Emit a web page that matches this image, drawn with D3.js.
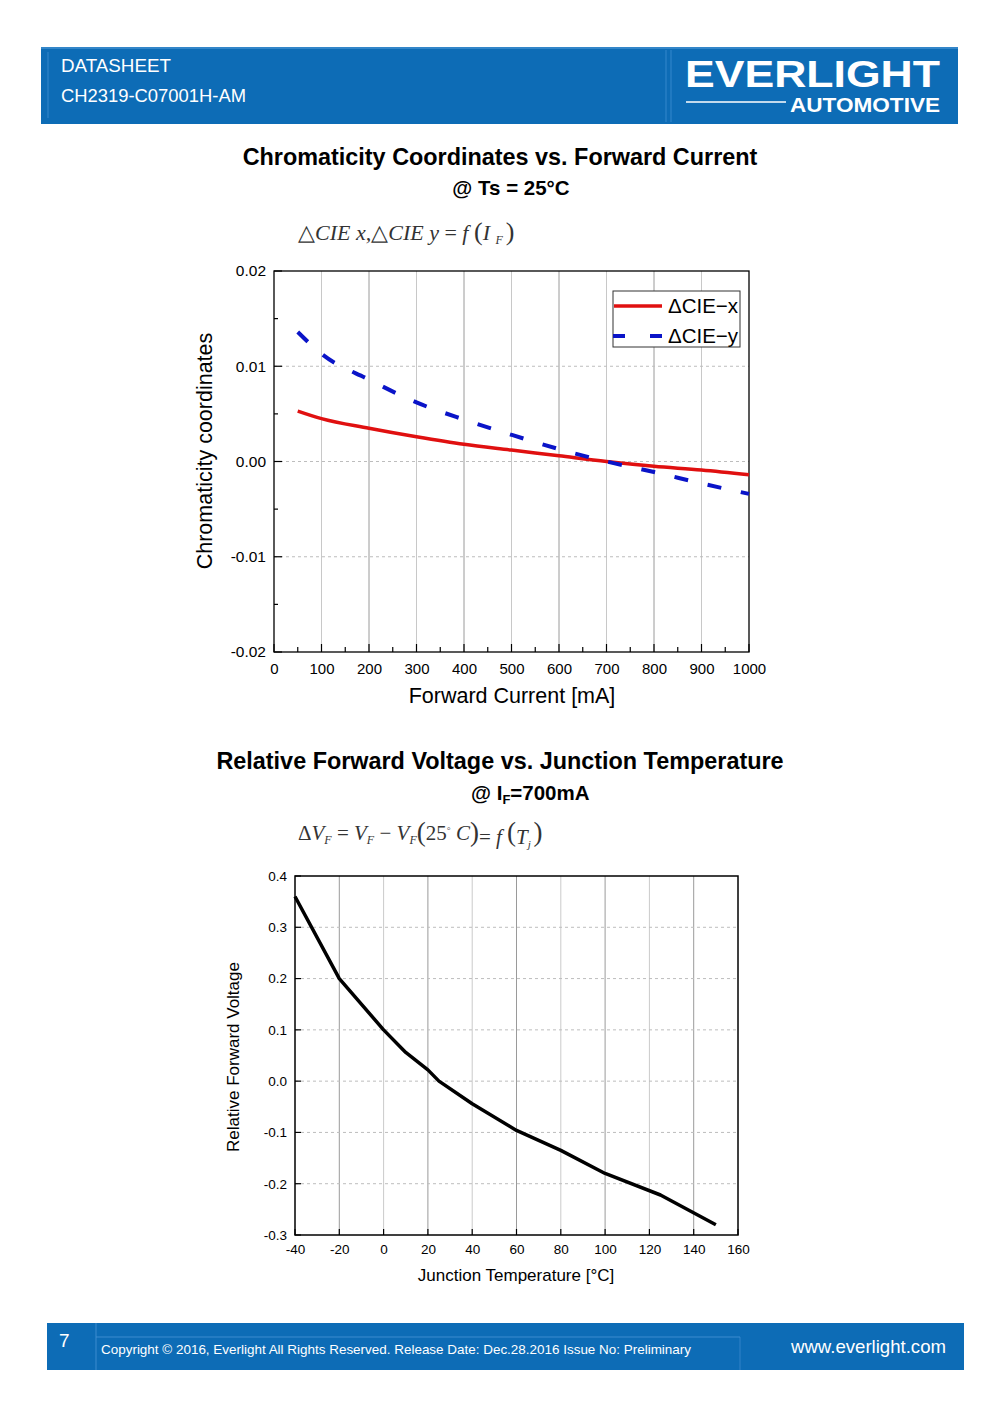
<!DOCTYPE html>
<html><head><meta charset="utf-8">
<script src="https://cdn.jsdelivr.net/npm/d3@7"></script>
<style>body{margin:0;background:#fff}svg{display:block}</style>
</head><body>
<script>
// ---- Data ----
const currentMA = [50,100,200,300,400,500,600,700,800,900,1000];
const cieX = [0.0053,0.0045,0.0035,0.0026,0.0018,0.0012,0.0006,0,-0.0005,-0.0009,-0.0014];
const cieY = [0.0136,0.0113,0.0086,0.0062,0.0044,0.0028,0.0013,0,-0.0011,-0.0023,-0.0034];
const xTicks1 = [0,100,200,300,400,500,600,700,800,900,1000];
const yTicks1 = [-0.02,-0.01,0,0.01,0.02];
const yTickLabels1 = ["-0.02","-0.01","0.00","0.01","0.02"];

const tempC = [-40,-20,0,10,20,25,40,60,80,100,125,150];
const dVF = [0.36,0.20,0.10,0.056,0.022,0.0,-0.044,-0.096,-0.135,-0.18,-0.222,-0.28];
const xTicks2 = [-40,-20,0,20,40,60,80,100,120,140,160];
const yTicks2 = [-0.3,-0.2,-0.1,0,0.1,0.2,0.3,0.4];
const yTickLabels2 = ["-0.3","-0.2","-0.1","0.0","0.1","0.2","0.3","0.4"];
const xTickLabels2 = ["-40","-20","0","20","40","60","80","100","120","140","160"];

const SANS = "'Liberation Sans', Arial, sans-serif";
const SERIF = "'Liberation Serif', 'Times New Roman', serif";
const BLUE = "#0d6cb6";

const svg = d3.select("body").append("svg").attr("width",1000).attr("height",1414);
svg.append("rect").attr("width",1000).attr("height",1414).attr("fill","#fff");

// ---- Header ----
const hd = svg.append("g");
hd.append("rect").attr("x",41).attr("y",47).attr("width",917).attr("height",77).attr("fill",BLUE);
hd.append("line").attr("x1",41).attr("x2",958).attr("y1",48).attr("y2",48).attr("stroke","#5aa0dc").attr("stroke-width",1);
hd.append("line").attr("x1",48).attr("x2",48).attr("y1",52).attr("y2",118).attr("stroke","#3f8fd2").attr("stroke-width",0.8);
hd.append("line").attr("x1",666).attr("x2",666).attr("y1",50).attr("y2",122).attr("stroke","#3f8fd2").attr("stroke-width",0.8);
hd.append("line").attr("x1",671).attr("x2",671).attr("y1",50).attr("y2",122).attr("stroke","#3f8fd2").attr("stroke-width",0.8);
hd.append("text").attr("x",61).attr("y",72).attr("fill","#fff").attr("font-family",SANS).attr("font-size",18)
  .attr("textLength",110).attr("lengthAdjust","spacingAndGlyphs").text("DATASHEET");
hd.append("text").attr("x",61).attr("y",102).attr("fill","#fff").attr("font-family",SANS).attr("font-size",18)
  .attr("textLength",185).attr("lengthAdjust","spacingAndGlyphs").text("CH2319-C07001H-AM");
hd.append("text").attr("x",685).attr("y",87).attr("fill","#fff").attr("font-family",SANS).attr("font-weight","bold")
  .attr("font-size",37).attr("textLength",255).attr("lengthAdjust","spacingAndGlyphs").text("EVERLIGHT");
hd.append("line").attr("x1",686).attr("x2",786).attr("y1",102).attr("y2",102).attr("stroke","#fff").attr("stroke-width",1.3);
hd.append("text").attr("x",790).attr("y",112).attr("fill","#fff").attr("font-family",SANS).attr("font-weight","bold")
  .attr("font-size",21).attr("textLength",150).attr("lengthAdjust","spacingAndGlyphs").text("AUTOMOTIVE");

// ---- Footer ----
const ft = svg.append("g");
ft.append("rect").attr("x",47).attr("y",1323).attr("width",917).attr("height",47).attr("fill",BLUE);
ft.append("line").attr("x1",96).attr("x2",96).attr("y1",1323).attr("y2",1370).attr("stroke","#4a96d6").attr("stroke-width",0.8);
ft.append("line").attr("x1",96).attr("x2",740).attr("y1",1337).attr("y2",1337).attr("stroke","#4a96d6").attr("stroke-width",0.8);
ft.append("line").attr("x1",740).attr("x2",740).attr("y1",1337).attr("y2",1370).attr("stroke","#4a96d6").attr("stroke-width",0.6);
ft.append("text").attr("x",59).attr("y",1347).attr("fill","#fff").attr("font-family",SANS).attr("font-size",19).text("7");
ft.append("text").attr("x",101).attr("y",1354).attr("fill","#fff").attr("font-family",SANS).attr("font-size",13.5)
  .attr("textLength",590).attr("lengthAdjust","spacingAndGlyphs")
  .text("Copyright \u00A9 2016, Everlight All Rights Reserved. Release Date: Dec.28.2016 Issue No: Preliminary");
ft.append("text").attr("x",946).attr("y",1353).attr("text-anchor","end").attr("fill","#fff").attr("font-family",SANS).attr("font-size",18.6)
  .text("www.everlight.com");

// ---- Chart 1 ----
const c1 = svg.append("g");
c1.append("text").attr("x",500).attr("y",165).attr("text-anchor","middle").attr("font-family",SANS).attr("font-weight","bold").attr("font-size",23.4).text("Chromaticity Coordinates vs. Forward Current");
c1.append("text").attr("x",511).attr("y",195).attr("text-anchor","middle").attr("font-family",SANS).attr("font-weight","bold").attr("font-size",20.5).text("@ Ts = 25°C");
// formula
const f1 = c1.append("text").attr("x",298).attr("y",240).attr("font-family",SERIF).attr("font-size",22).attr("fill","#333");
f1.append("tspan").text("\u25B3");
f1.append("tspan").attr("font-style","italic").text("CIE x,");
f1.append("tspan").text("\u25B3");
f1.append("tspan").attr("font-style","italic").text("CIE y");
f1.append("tspan").text(" = ");
f1.append("tspan").attr("font-style","italic").text("f ");
f1.append("tspan").attr("font-size",26).text("(");
f1.append("tspan").attr("font-style","italic").text("I ");
f1.append("tspan").attr("font-style","italic").attr("font-size",12).attr("dy",4).text("F ");
f1.append("tspan").attr("font-size",26).attr("dy",-4).text(")");

const x1 = d3.scaleLinear().domain([0,1000]).range([274,749]);
const y1 = d3.scaleLinear().domain([-0.02,0.02]).range([652,271]);

// vertical grid
c1.append("g").selectAll("line").data(xTicks1.slice(1,-1)).join("line")
  .attr("x1",d=>x1(d)).attr("x2",d=>x1(d)).attr("y1",271).attr("y2",652)
  .attr("stroke",(d,i)=> i%2===1 ? "#9a9a9a" : "#c8c8c8").attr("stroke-width",1);
// horizontal dashed grid
c1.append("g").selectAll("line").data(yTicks1.slice(1,-1)).join("line")
  .attr("x1",274).attr("x2",749).attr("y1",d=>y1(d)).attr("y2",d=>y1(d))
  .attr("stroke","#bdbdbd").attr("stroke-width",1).attr("stroke-dasharray","3,3");

// axes
const ax1 = d3.axisBottom(x1).tickValues(xTicks1).tickSize(0).tickPadding(11).tickFormat(d3.format("d"));
const gx1 = c1.append("g").attr("transform","translate(0,652)").call(ax1);
gx1.select(".domain").remove();
gx1.selectAll("text").attr("font-family",SANS).attr("font-size",15).attr("fill","#000");
c1.append("g").selectAll("line").data(d3.range(50,1000,100)).join("line")
  .attr("x1",d=>x1(d)).attr("x2",d=>x1(d)).attr("y1",652).attr("y2",647).attr("stroke","#000").attr("stroke-width",1.2);
c1.append("g").selectAll("line").data(xTicks1).join("line")
  .attr("x1",d=>x1(d)).attr("x2",d=>x1(d)).attr("y1",652).attr("y2",644).attr("stroke","#000").attr("stroke-width",1.2);

const ay1 = d3.axisLeft(y1).tickValues(yTicks1).tickSize(0).tickPadding(8).tickFormat((d,i)=>yTickLabels1[i]);
const gy1 = c1.append("g").attr("transform","translate(274,0)").call(ay1);
gy1.select(".domain").remove();
gy1.selectAll("text").attr("font-family",SANS).attr("font-size",15.5).attr("fill","#000");
c1.append("g").selectAll("line").data([-0.015,-0.005,0.005,0.015]).join("line")
  .attr("x1",274).attr("x2",278).attr("y1",d=>y1(d)).attr("y2",d=>y1(d)).attr("stroke","#000").attr("stroke-width",1.2);
c1.append("g").selectAll("line").data(yTicks1).join("line")
  .attr("x1",274).attr("x2",282).attr("y1",d=>y1(d)).attr("y2",d=>y1(d)).attr("stroke","#000").attr("stroke-width",1.2);

c1.append("rect").attr("x",274).attr("y",271).attr("width",475).attr("height",381).attr("fill","none").attr("stroke","#000").attr("stroke-width",1.3);

// lines
const line1x = d3.line().x((d,i)=>x1(currentMA[i])).y(d=>y1(d)).curve(d3.curveMonotoneX);
c1.append("path").attr("d",line1x(cieX)).attr("fill","none").attr("stroke","#e01010").attr("stroke-width",3.5);
c1.append("path").attr("d",line1x(cieY)).attr("fill","none").attr("stroke","#0a14c8").attr("stroke-width",4).attr("stroke-dasharray","14,20");

// legend
const lg = c1.append("g");
lg.append("rect").attr("x",613).attr("y",291).attr("width",127).attr("height",56).attr("fill","#fff").attr("stroke","#333").attr("stroke-width",1);
lg.append("line").attr("x1",614).attr("x2",662).attr("y1",306).attr("y2",306).attr("stroke","#e01010").attr("stroke-width",3.5);
lg.append("line").attr("x1",613).attr("x2",662).attr("y1",336).attr("y2",336).attr("stroke","#0a14c8").attr("stroke-width",4).attr("stroke-dasharray","12,25");
lg.append("text").attr("x",668).attr("y",313).attr("font-family",SANS).attr("font-size",20.5).text("\u0394CIE\u2212x");
lg.append("text").attr("x",668).attr("y",343).attr("font-family",SANS).attr("font-size",20.5).text("\u0394CIE\u2212y");

c1.append("text").attr("transform","translate(212,451) rotate(-90)").attr("text-anchor","middle").attr("font-family",SANS).attr("font-size",21.5).text("Chromaticity coordinates");
c1.append("text").attr("x",512).attr("y",703).attr("text-anchor","middle").attr("font-family",SANS).attr("font-size",21.5).text("Forward Current [mA]");

// ---- Chart 2 ----
const c2 = svg.append("g");
c2.append("text").attr("x",500).attr("y",769).attr("text-anchor","middle").attr("font-family",SANS).attr("font-weight","bold").attr("font-size",23.4).text("Relative Forward Voltage vs. Junction Temperature");
const at2 = c2.append("text").attr("x",471).attr("y",800).attr("font-family",SANS).attr("font-weight","bold").attr("font-size",20.5);
at2.append("tspan").text("@ I");
at2.append("tspan").attr("font-size",13).attr("dy",4).text("F");
at2.append("tspan").attr("dy",-4).text("=700mA");

const f2 = c2.append("text").attr("x",298).attr("y",840).attr("font-family",SERIF).attr("font-size",21).attr("fill","#333");
f2.append("tspan").text("\u0394");
f2.append("tspan").attr("font-style","italic").text("V");
f2.append("tspan").attr("font-style","italic").attr("font-size",12).attr("dy",4).text("F");
f2.append("tspan").attr("dy",-4).text(" = ");
f2.append("tspan").attr("font-style","italic").text("V");
f2.append("tspan").attr("font-style","italic").attr("font-size",12).attr("dy",4).text("F");
f2.append("tspan").attr("dy",-4).text(" \u2212 ");
f2.append("tspan").attr("font-style","italic").text("V");
f2.append("tspan").attr("font-style","italic").attr("font-size",12).attr("dy",4).text("F");
f2.append("tspan").attr("font-size",27).attr("dy",-3).text("(");
f2.append("tspan").attr("dy",-1).text("25");
f2.append("tspan").attr("font-size",11).attr("dy",-8).text("\u25E6");
f2.append("tspan").attr("font-style","italic").attr("dy",8).text(" C");
f2.append("tspan").attr("font-size",27).attr("dy",1).text(")");
f2.append("tspan").attr("dy",3).text("= ");
f2.append("tspan").attr("font-style","italic").text("f ");
f2.append("tspan").attr("font-size",27).attr("dy",-3).text("(");
f2.append("tspan").attr("font-style","italic").attr("dy",3).text("T");
f2.append("tspan").attr("font-style","italic").attr("font-size",11).attr("dy",4).text("j ");
f2.append("tspan").attr("font-size",27).attr("dy",-7).text(")");

const x2 = d3.scaleLinear().domain([-40,160]).range([295,738]);
const y2 = d3.scaleLinear().domain([-0.3,0.4]).range([1235,876]);

c2.append("g").selectAll("line").data(xTicks2.slice(1,-1)).join("line")
  .attr("x1",d=>x2(d)).attr("x2",d=>x2(d)).attr("y1",876).attr("y2",1235)
  .attr("stroke",(d,i)=> i%2===0 ? "#9a9a9a" : "#cacaca").attr("stroke-width",1);
c2.append("g").selectAll("line").data(yTicks2.slice(1,-1)).join("line")
  .attr("x1",295).attr("x2",738).attr("y1",d=>y2(d)).attr("y2",d=>y2(d))
  .attr("stroke","#bdbdbd").attr("stroke-width",1).attr("stroke-dasharray","3,3");

const ax2 = d3.axisBottom(x2).tickValues(xTicks2).tickSize(0).tickPadding(9).tickFormat((d,i)=>xTickLabels2[i]);
const gx2 = c2.append("g").attr("transform","translate(0,1235)").call(ax2);
gx2.select(".domain").remove();
gx2.selectAll("text").attr("font-family",SANS).attr("font-size",13.5).attr("fill","#000");
c2.append("g").selectAll("line").data(xTicks2).join("line")
  .attr("x1",d=>x2(d)).attr("x2",d=>x2(d)).attr("y1",1235).attr("y2",1229).attr("stroke","#000").attr("stroke-width",1.2);

const ay2 = d3.axisLeft(y2).tickValues(yTicks2).tickSize(0).tickPadding(8).tickFormat((d,i)=>yTickLabels2[i]);
const gy2 = c2.append("g").attr("transform","translate(295,0)").call(ay2);
gy2.select(".domain").remove();
gy2.selectAll("text").attr("font-family",SANS).attr("font-size",13.5).attr("fill","#000");
c2.append("g").selectAll("line").data(yTicks2).join("line")
  .attr("x1",295).attr("x2",301).attr("y1",d=>y2(d)).attr("y2",d=>y2(d)).attr("stroke","#000").attr("stroke-width",1.2);

c2.append("rect").attr("x",295).attr("y",876).attr("width",443).attr("height",359).attr("fill","none").attr("stroke","#000").attr("stroke-width",1.5);

const line2 = d3.line().x((d,i)=>x2(tempC[i])).y(d=>y2(d));
c2.append("path").attr("d",line2(dVF)).attr("fill","none").attr("stroke","#000").attr("stroke-width",3.5).attr("stroke-linejoin","round");

c2.append("text").attr("transform","translate(239,1057) rotate(-90)").attr("text-anchor","middle").attr("font-family",SANS).attr("font-size",17).text("Relative Forward Voltage");
c2.append("text").attr("x",516).attr("y",1281).attr("text-anchor","middle").attr("font-family",SANS).attr("font-size",17).text("Junction Temperature [\u00B0C]");
</script>
</body></html>
